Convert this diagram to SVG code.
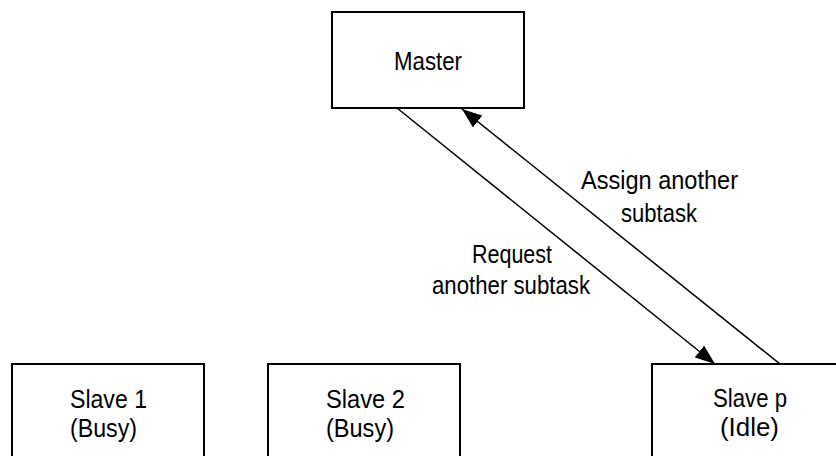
<svg xmlns="http://www.w3.org/2000/svg" width="836" height="456" viewBox="0 0 836 456">
  <style>
    .box { fill: #ffffff; stroke: #000000; stroke-width: 2; }
    .lbl { font-family: "Liberation Sans", Arial, sans-serif; font-size: 26px; fill: #000000; }
    .sm { font-size: 25px; }
    .edge { stroke: #000000; stroke-width: 1.5; fill: none; marker-end: url(#head); }
  </style>
  <defs>
    <marker id="head" markerUnits="userSpaceOnUse" markerWidth="22" markerHeight="16" refX="20" refY="7.5" orient="auto">
      <path d="M0,0 L20,7.5 L0,15 Z" fill="#000000"/>
    </marker>
  </defs>
  <rect width="836" height="456" fill="#ffffff"/>

  <g id="master">
    <rect class="box" x="332" y="12" width="192" height="96"/>
    <text class="lbl" x="394" y="70" textLength="68" lengthAdjust="spacingAndGlyphs">Master</text>
  </g>

  <g id="slave1">
    <rect class="box" x="12" y="364" width="192" height="110"/>
    <text class="lbl sm" x="70" y="408" textLength="77" lengthAdjust="spacingAndGlyphs">Slave 1</text>
    <text class="lbl sm" x="70" y="437" textLength="67" lengthAdjust="spacingAndGlyphs">(Busy)</text>
  </g>

  <g id="slave2">
    <rect class="box" x="268" y="364" width="192" height="110"/>
    <text class="lbl sm" x="326" y="408" textLength="79" lengthAdjust="spacingAndGlyphs">Slave 2</text>
    <text class="lbl sm" x="326" y="437" textLength="68" lengthAdjust="spacingAndGlyphs">(Busy)</text>
  </g>

  <g id="slavep">
    <rect class="box" x="652" y="364" width="192" height="110"/>
    <text class="lbl sm" x="713" y="407" textLength="74" lengthAdjust="spacingAndGlyphs">Slave p</text>
    <text class="lbl sm" x="720" y="436" textLength="59" lengthAdjust="spacingAndGlyphs">(Idle)</text>
  </g>

  <g id="connectors">
    <line class="edge" x1="397" y1="108" x2="715" y2="364"/>
    <line class="edge" x1="780" y1="364" x2="462" y2="109"/>
    <text class="lbl" x="581" y="189" textLength="157" lengthAdjust="spacingAndGlyphs">Assign another</text>
    <text class="lbl" x="621" y="222" textLength="76" lengthAdjust="spacingAndGlyphs">subtask</text>
    <text class="lbl" x="472" y="263" textLength="80" lengthAdjust="spacingAndGlyphs">Request</text>
    <text class="lbl" x="432" y="294" textLength="158" lengthAdjust="spacingAndGlyphs">another subtask</text>
  </g>
</svg>
